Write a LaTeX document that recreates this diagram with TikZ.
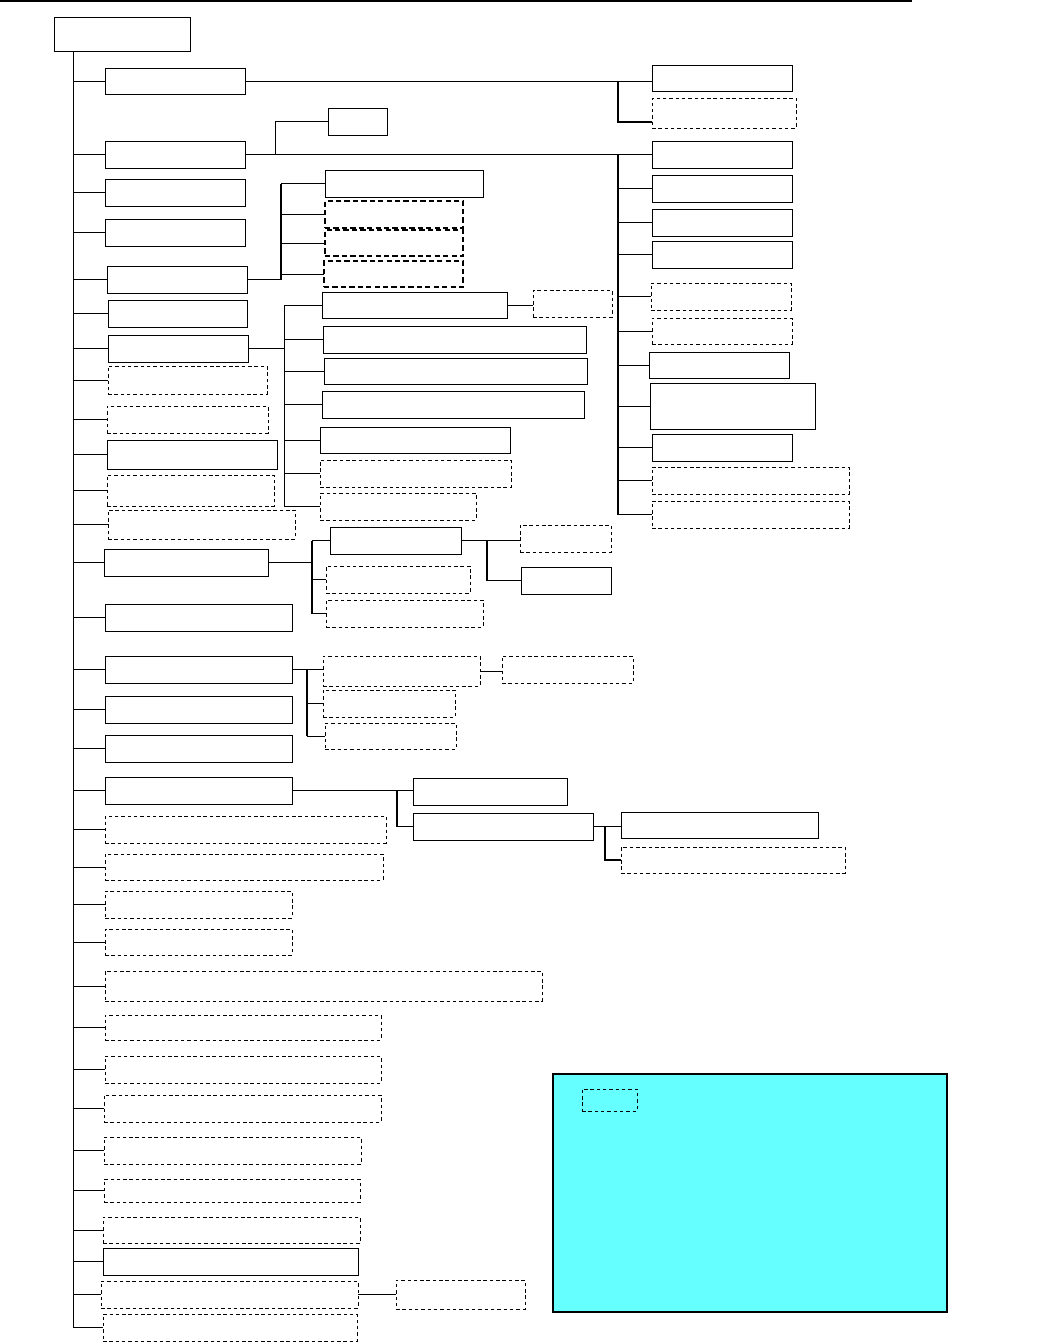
\documentclass[tikz,border=0pt]{standalone}
\usetikzlibrary{calc}
\definecolor{legendcyan}{RGB}{102,255,255}
\begin{document}
\begin{tikzpicture}[
  x=0.02cm, y=-0.02cm,
  cell/.style 2 args={draw=black, inner sep=0pt, outer sep=0pt,
    minimum width=#1*0.02cm, minimum height=#2*0.02cm},
  solidcell/.style 2 args={cell={#1}{#2}, line width=0.5pt},
  dashcell/.style 2 args={cell={#1}{#2}, line width=0.45pt,
    dash pattern=on 2pt off 1.6pt},
  boldcell/.style 2 args={cell={#1}{#2}, line width=1.05pt,
    dash pattern=on 3pt off 1.8pt},
  link/.style={line width=0.5pt},
  spine/.style={line width=0.7pt}
]
\useasboundingbox (0,0) rectangle (1051,1342);
\draw[line width=0.6pt] (0,1) -- (912,1);

% root and first level
\node[solidcell={136}{34}] (root) at (122,34) {};
\node[solidcell={140}{26}] (b1)  at (175,81) {};
\node[solidcell={140}{27}] (b2)  at (175,154.5) {};
\node[solidcell={140}{27}] (b3)  at (175,192.5) {};
\node[solidcell={140}{27}] (b4)  at (175,232.5) {};
\node[solidcell={140}{27}] (b5)  at (177,279.5) {};
\node[solidcell={139}{27}] (b6)  at (177.5,313.5) {};
\node[solidcell={140}{27}] (b7)  at (178,348.5) {};
\node[dashcell={159}{28}]  (b8)  at (187.5,380) {};
\node[dashcell={161}{27}]  (b9)  at (187.5,419.5) {};
\node[solidcell={170}{29}] (b10) at (192,454.5) {};
\node[dashcell={167}{31}]  (b11) at (190.5,490.5) {};
\node[dashcell={187}{29}]  (b12) at (201.5,524.5) {};
\node[solidcell={164}{27}] (b13) at (186,562.5) {};
\node[solidcell={187}{27}] (b14) at (198.5,617.5) {};
\node[solidcell={187}{27}] (b15) at (198.5,669.5) {};
\node[solidcell={187}{27}] (b16) at (198.5,709.5) {};
\node[solidcell={187}{27}] (b17) at (198.5,748.5) {};
\node[solidcell={187}{27}] (b18) at (198.5,790.5) {};
\node[dashcell={281}{27}]  (b19) at (245.5,829.5) {};
\node[dashcell={278}{26}]  (b20) at (244,867) {};
\node[dashcell={187}{27}]  (b21) at (198.5,904.5) {};
\node[dashcell={187}{26}]  (b22) at (198.5,942) {};
\node[dashcell={437}{30}]  (b23) at (323.5,986) {};
\node[dashcell={276}{25}]  (b24) at (243,1027.5) {};
\node[dashcell={276}{27}]  (b25) at (243,1069.5) {};
\node[dashcell={277}{27}]  (b26) at (242.5,1108.5) {};
\node[dashcell={257}{27}]  (b27) at (232.5,1150.5) {};
\node[dashcell={256}{23}]  (b28) at (232,1190.5) {};
\node[dashcell={257}{26}]  (b29) at (231.5,1230) {};
\node[solidcell={255}{27}] (b30) at (230.5,1261.5) {};
\node[dashcell={257}{27}]  (b31) at (229.5,1294.5) {};
\node[dashcell={254}{27}]  (b32) at (230,1327.5) {};

% right column
\node[solidcell={140}{26}] (r1)  at (722,78) {};
\node[dashcell={144}{30}]  (r2)  at (724,113) {};
\node[solidcell={140}{27}] (r3)  at (722,154.5) {};
\node[solidcell={140}{27}] (r4)  at (722,188.5) {};
\node[solidcell={140}{27}] (r5)  at (722,222.5) {};
\node[solidcell={140}{27}] (r6)  at (722,254.5) {};
\node[dashcell={140}{27}]  (r7)  at (721,296.5) {};
\node[dashcell={140}{26}]  (r8)  at (722,331) {};
\node[solidcell={140}{26}] (r9)  at (719,365) {};
\node[solidcell={165}{46}] (r10) at (732.5,406) {};
\node[solidcell={140}{27}] (r11) at (722,447.5) {};
\node[dashcell={197}{27}]  (r12) at (750.5,480.5) {};
\node[dashcell={197}{27}]  (r13) at (750.5,514.5) {};
\node[solidcell={59}{27}]  (s1)  at (357.5,121.5) {};

% middle groups
\node[solidcell={158}{27}] (c1) at (404,183.5) {};
\node[boldcell={138}{27}]  (c2) at (394,214.5) {};
\node[boldcell={138}{26}]  (c3) at (394,243) {};
\node[boldcell={139}{26}]  (c4) at (393.5,274) {};

\node[solidcell={185}{26}] (d1) at (414.5,305) {};
\node[dashcell={79}{27}]   (dd1) at (572.5,303.5) {};
\node[solidcell={263}{27}] (d2) at (454.5,339.5) {};
\node[solidcell={263}{26}] (d3) at (455.5,371) {};
\node[solidcell={262}{27}] (d4) at (453,404.5) {};
\node[solidcell={190}{26}] (d5) at (415,440) {};
\node[dashcell={191}{27}]  (d6) at (415.5,473.5) {};
\node[dashcell={156}{27}]  (d7) at (398,506.5) {};

\node[solidcell={131}{27}] (e1) at (395.5,540.5) {};
\node[dashcell={91}{27}]   (ea) at (565.5,538.5) {};
\node[solidcell={90}{27}]  (eb) at (566,580.5) {};
\node[dashcell={144}{27}]  (e2) at (398,579.5) {};
\node[dashcell={157}{27}]  (e3) at (404.5,613.5) {};

\node[dashcell={157}{30}]  (f1)  at (401.5,671) {};
\node[dashcell={131}{27}]  (ff1) at (567.5,669.5) {};
\node[dashcell={132}{27}]  (f2)  at (389,703.5) {};
\node[dashcell={131}{26}]  (f3)  at (390.5,736) {};

\node[solidcell={154}{27}] (g1) at (490,791.5) {};
\node[solidcell={180}{27}] (g2) at (503,826.5) {};
\node[solidcell={197}{26}] (h1) at (719.5,825) {};
\node[dashcell={224}{26}]  (h2) at (733,860) {};

\node[dashcell={129}{29}]  (k1) at (460.5,1294.5) {};

% legend
\node[cell={394}{238}, line width=0.6pt, fill=legendcyan] (legend) at (750,1193) {};
\node[dashcell={55}{22}] (key) at (609.5,1100) {};

% junction columns
\coordinate (trunk)  at (73.5,0);
\coordinate (rtrunk) at (618,0);
\coordinate (sjoin)  at (275,0);
\coordinate (cjoin)  at (281,0);
\coordinate (djoin)  at (284.5,0);
\coordinate (ejoin)  at (312,0);
\coordinate (eajoin) at (487,0);
\coordinate (fjoin)  at (307,0);
\coordinate (gjoin)  at (397,0);
\coordinate (hjoin)  at (605,0);

% main trunk
\draw[spine] (root.south -| trunk) -- (b32.west -| trunk);
\foreach \i in {1,...,32}
  \draw[link] (b\i.west -| trunk) -- (b\i.west);

% right column links
\draw[link] (b1.east) -- (b1.east -| r1.west);
\draw[spine] (b1.east -| rtrunk) |- ($(r2.south west)+(0,-6)$);
\draw[link] (b2.east) -- (r3.west);
\draw[link] (b2.east -| sjoin) |- (s1.west);
\draw[spine] (r3.west -| rtrunk) -- (r13.west -| rtrunk);
\foreach \i in {4,...,13}
  \draw[link] (r\i.west -| rtrunk) -- (r\i.west);

% groups
\draw[link] (b5.east) -- (b5.east -| cjoin);
\draw[spine] (c1.west -| cjoin) -- (b5.east -| cjoin);
\foreach \i in {1,...,4}
  \draw[link] (c\i.west -| cjoin) -- (c\i.west);

\draw[link] (b7.east) -- (b7.east -| djoin);
\draw[spine] (d1.west -| djoin) -- (d7.west -| djoin);
\foreach \i in {1,...,7}
  \draw[link] (d\i.west -| djoin) -- (d\i.west);
\draw[link] (d1.east) -- (d1.east -| dd1.west);

\draw[link] (b13.east) -- (b13.east -| ejoin);
\draw[spine] (e1.west -| ejoin) -- (e3.west -| ejoin);
\foreach \i in {1,...,3}
  \draw[link] (e\i.west -| ejoin) -- (e\i.west);
\draw[link] (e1.east) -- (e1.east -| ea.west);
\draw[spine] (e1.east -| eajoin) |- (eb.west);

\draw[link] (b15.east) -- (b15.east -| f1.west);
\draw[spine] (b15.east -| fjoin) -- (f3.west -| fjoin);
\draw[link] (f2.west -| fjoin) -- (f2.west);
\draw[link] (f3.west -| fjoin) -- (f3.west);
\draw[link] (f1.east) -- (f1.east -| ff1.west);

\draw[link] (b18.east) -- (b18.east -| g1.west);
\draw[spine] (b18.east -| gjoin) |- (g2.west);
\draw[link] (g2.east) -- (g2.east -| h1.west);
\draw[spine] (g2.east -| hjoin) |- (h2.west);

\draw[link] (b31.east) -- (b31.east -| k1.west);
\end{tikzpicture}
\end{document}
